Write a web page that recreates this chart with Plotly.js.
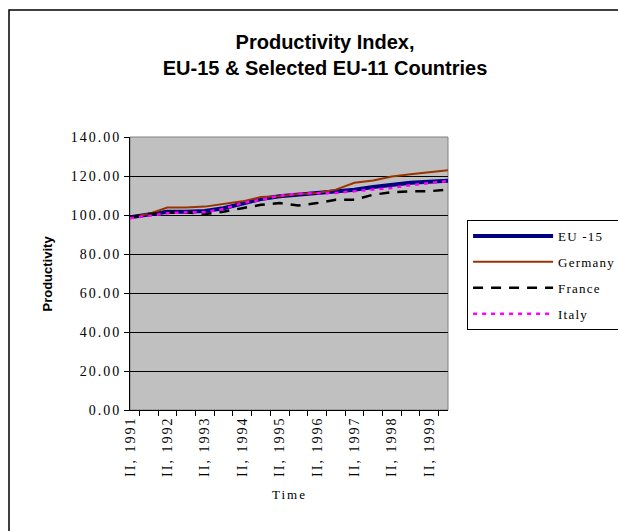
<!DOCTYPE html>
<html>
<head>
<meta charset="utf-8">
<script src="https://cdn.plot.ly/plotly-3.0.1.min.js"></script>
<style>
  html, body { margin: 0; padding: 0; background: #fff; }
  #chart { width: 618px; height: 531px; }
  .ytick text, .xtick text { letter-spacing: 2px; }
  .legendtext { letter-spacing: 1.2px; }
  .annotation-text.sp { letter-spacing: 2px; }
</style>
</head>
<body>
<div id="chart"></div>
<script>
const categories = ["II, 1991","I, 1992","II, 1992","I, 1993","II, 1993","I, 1994","II, 1994","I, 1995","II, 1995",
  "I, 1996","II, 1996","I, 1997","II, 1997","I, 1998","II, 1998","I, 1999","II, 1999","I, 2000"];
const tickLabels = categories.map(c => c.startsWith("II") ? c : "");

const eu15    = [98.8,100.2,101.7,101.7,102.1,103.5,105.7,108.2,109.6,110.4,111.0,111.8,113.0,114.4,115.7,116.5,117.0,117.6];
const germany = [98.8,100.5,103.8,103.8,104.3,105.6,107.0,109.2,109.6,110.8,111.3,113.0,116.5,117.7,119.7,120.9,121.9,123.0];
const france  = [98.8,100.5,101.2,101.4,100.5,101.7,103.5,105.2,106.1,104.9,106.1,107.8,107.8,110.4,111.7,112.2,112.2,113.0];
const italy   = [98.3,99.7,100.9,101.4,101.4,103.1,106.1,107.8,109.9,111.0,111.0,111.3,112.2,113.0,113.9,115.3,116.2,117.4];

const serif = "Liberation Serif";

const traces = [
  {x: categories, y: eu15, name: "EU -15", legendgroup: "a", mode: "lines",
   line: {color: "#000080", width: 4}},
  {x: categories, y: germany, name: "Germany", legendgroup: "b", mode: "lines",
   line: {color: "#993300", width: 2}},
  {x: categories, y: france, name: "France", legendgroup: "c", mode: "lines",
   line: {color: "#000000", width: 2.5, dash: "10px,8px"}},
  {x: categories, y: italy, name: "Italy", legendgroup: "d", mode: "lines",
   line: {color: "#FF00FF", width: 2.5, dash: "4px,5px"}}
];

const layout = {
  width: 618, height: 531,
  margin: {l: 130, r: 170, t: 137, b: 121, autoexpand: false},
  paper_bgcolor: "#ffffff",
  plot_bgcolor: "#c0c0c0",
  showlegend: true,
  title: {
    text: "Productivity Index,<br>EU-15 & Selected EU-11 Countries",
    font: {family: "Liberation Sans", size: 20, color: "#000", weight: "bold"},
    x: 0.526, xref: "container", xanchor: "center",
    y: 0.908, yref: "container", yanchor: "middle"
  },
  xaxis: {
    type: "category",
    tickmode: "array", tickvals: categories, ticktext: tickLabels,
    tickson: "boundaries", ticks: "outside", ticklen: 5, tickcolor: "#000",
    tickangle: -90,
    tickfont: {family: serif, size: 14, color: "#000"},
    showgrid: false, showline: true, linecolor: "#000", linewidth: 1,
    zeroline: false, automargin: false
  },
  yaxis: {
    range: [0, 140], dtick: 20, tick0: 0, tickformat: ".2f",
    ticks: "outside", ticklen: 5, tickcolor: "#000",
    tickfont: {family: serif, size: 14, color: "#000"},
    showgrid: true, gridcolor: "#000", gridwidth: 1,
    showline: true, linecolor: "#000", linewidth: 1,
    zeroline: false, automargin: false
  },
  legend: {
    x: 1.06, xanchor: "left", y: 0.696, yanchor: "top",
    xref: "paper", yref: "paper",
    bgcolor: "#ffffff", bordercolor: "#000", borderwidth: 1,
    font: {family: serif, size: 13, color: "#000"},
    tracegroupgap: 6, itemwidth: 80
  },
  annotations: [
    {text: "Productivity", textangle: -90, xref: "paper", yref: "paper",
     x: -0.261, y: 0.5, xanchor: "center", yanchor: "middle", showarrow: false,
     font: {family: "Liberation Sans", size: 13, color: "#000", weight: "bold"}},
    {text: "Time", xref: "paper", yref: "paper", x: 0.5, y: -0.311,
     xanchor: "center", yanchor: "middle", showarrow: false,
     font: {family: serif, size: 13, color: "#000"}}
  ],
  shapes: [
    {type: "rect", xref: "paper", yref: "paper", x0: 0, x1: 1, y0: 0, y1: 1,
     line: {color: "#808080", width: 1}, layer: "below"},
    {type: "rect", xref: "paper", yref: "paper", x0: -0.3805, x1: 1.62, y0: -0.5, y1: 1.465,
     line: {color: "#000", width: 1.5}, fillcolor: "rgba(0,0,0,0)", layer: "below"}
  ]
};

Plotly.newPlot("chart", traces, layout, {displayModeBar: false, staticPlot: true}).then(() => {
  document.querySelectorAll(".annotation-text").forEach(t => {
    if (t.textContent === "Time") t.classList.add("sp");
  });
});
</script>
</body>
</html>
